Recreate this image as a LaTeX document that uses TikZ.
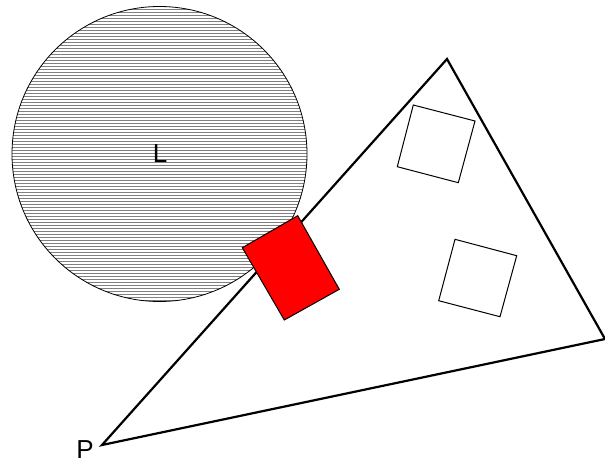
\documentclass[tikz,border=0pt]{standalone}
\usepackage{fontspec}
\setmainfont{Liberation Sans}
\begin{document}
\begin{tikzpicture}[x=1pt,y=-1pt,
  tri/.style={draw=black,line width=2.2pt,line join=miter},
  sq/.style={draw=black,line width=1pt},
  redbox/.style={draw=black,fill=red,line width=1pt},
  hatch/.style={draw=black!50,line width=0.45pt},
  lbl/.style={font=\fontsize{26}{31}\selectfont,inner sep=0pt}]
\useasboundingbox (0,0) rectangle (605,464);
% circle L
\coordinate (cL) at (159.5,154);
\begin{scope}
  \clip (cL) circle (147.5);
  \foreach \yy in {6,9,...,303} {
    \draw[hatch] (10,\yy) -- (310,\yy);
  }
\end{scope}
\draw[line width=0.8pt] (cL) circle (147.5);
\node[lbl] (L) at (160,154) {L};
% triangle
\coordinate (P) at (102,445);
\coordinate (T) at (447,59);
\coordinate (R) at (605,339);
\draw[tri] (P) -- (T) -- (R) -- cycle;
% squares
\coordinate (a1) at (413.3,105);
\coordinate (a2) at (475,121);
\coordinate (a3) at (458.3,182.7);
\coordinate (a4) at (397.3,166.7);
\draw[sq] (a1) -- (a2) -- (a3) -- (a4) -- cycle;
\coordinate (b1) at (455,239.3);
\coordinate (b2) at (516.7,255.7);
\coordinate (b3) at (500,316.7);
\coordinate (b4) at (438.7,300.7);
\draw[sq] (b1) -- (b2) -- (b3) -- (b4) -- cycle;
% red box
\coordinate (r1) at (297.7,215.7);
\coordinate (r2) at (339.3,289.3);
\coordinate (r3) at (284.3,320);
\coordinate (r4) at (242.3,247.7);
\draw[redbox] (r1) -- (r2) -- (r3) -- (r4) -- cycle;
% label P
\node[lbl] (Plbl) at (85,450) {P};
\end{tikzpicture}
\end{document}
